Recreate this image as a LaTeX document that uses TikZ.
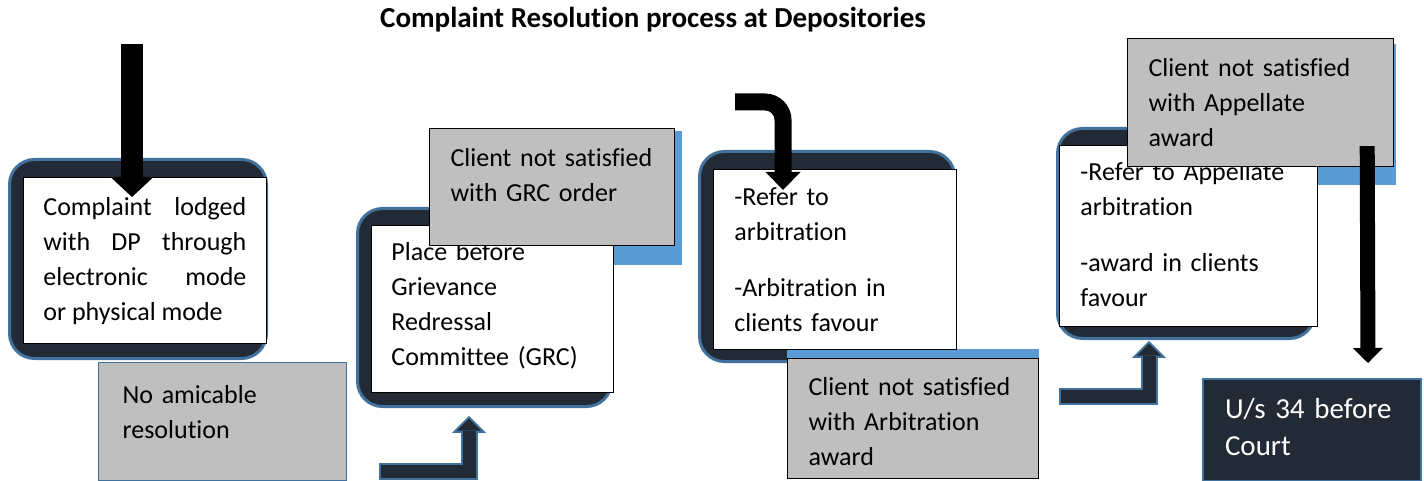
\documentclass[tikz,border=0pt]{standalone}
\usepackage{fontspec}
\setmainfont{Carlito}[Ligatures=NoCommon]
\usetikzlibrary{arrows.meta,calc}
\pgfdeclarelayer{back}
\pgfsetlayers{back,main}
\definecolor{framedark}{HTML}{222A35}
\definecolor{frameblue}{HTML}{41719C}
\definecolor{shadeblue}{HTML}{5B9BD5}
\definecolor{boxgray}{HTML}{BFBFBF}

\begin{document}
\begin{tikzpicture}[x=1pt,y=-1pt,
	roundframe/.style={draw=frameblue,line width=3pt,fill=framedark,rounded corners=25pt,anchor=north west,inner sep=0pt},
	textbox/.style={anchor=north west,inner ysep=0pt,align=left,font=\fontsize{26}{35}\selectfont},
	whitebox/.style={textbox,draw=black,line width=0.8pt,fill=white},
	graybox/.style={textbox,draw=black,line width=1.2pt,fill=boxgray},
	bluearrow/.style={draw=frameblue,line width=17pt,-{Triangle[width=34pt,length=17pt,line width=0pt]}},
	darkarrow/.style={draw=framedark,line width=13pt,shorten <=2pt,shorten >=2.8pt,-{Triangle[width=24pt,length=12pt,line width=0pt]}}]
	\useasboundingbox (0,0) rectangle (1424,481);
	\node[font=\bfseries\fontsize{29}{34}\selectfont] (title) at (653,20) {Complaint Resolution process at Depositories};

	\node[whitebox,inner xsep=20pt,text width=203pt,text height=38pt,text depth=128pt,align=justify] (lodge) at (23,177)
		{Complaint lodged\linebreak with DP through\linebreak electronic mode\linebreak or physical mode};
	\node[graybox,draw=frameblue,inner xsep=24pt,text width=200pt,text height=41pt,text depth=77pt] (amicable) at (98,362)
		{No amicable\\resolution};

	\node[whitebox,inner xsep=20pt,text width=202pt,text height=35pt,text depth=132pt] (grc) at (371,225)
		{Place before\\Grievance\\Redressal\\Committee (GRC)};
	\node[graybox,inner xsep=21pt,text width=203pt,text height=38pt,text depth=79pt] (notgrc) at (429,128)
		{Client not satisfied\\with GRC order};

	\node[whitebox,inner xsep=21pt,text width=201pt,text height=36pt,text depth=144pt] (arb) at (713,169)
		{-Refer to\\arbitration\\[21pt]-Arbitration in\\clients favour};
	\node[graybox,inner xsep=21pt,text width=209pt,text height=37pt,text depth=83pt] (notarb) at (787,358)
		{Client not satisfied\\with Arbitration\\award};

	\node[whitebox,inner xsep=21pt,text width=216pt,text height=35pt,text depth=146pt] (appellate) at (1059,145)
		{-Refer to Appellate\\arbitration\\[21pt]-award in clients\\favour};
	\node[graybox,inner xsep=21pt,text width=224pt,text height=38pt,text depth=90pt] (notappellate) at (1127,38)
		{Client not satisfied\\with Appellate\\award};

	\node[textbox,draw=frameblue,line width=2pt,fill=framedark,text=white,font=\fontsize{29}{37}\selectfont,
		inner xsep=22pt,text width=174pt,text height=39pt,text depth=63pt] (court) at (1202,378)
		{U/s 34 before\\Court};

	\begin{pgfonlayer}{back}
		\node[roundframe,minimum width=257pt,minimum height=199pt] (lodge frame) at (8,158) {};
		\node[roundframe,minimum width=254pt,minimum height=198pt] (grc frame) at (356,207) {};
		\node[roundframe,minimum width=255pt,minimum height=210pt] (arb frame) at (698,150) {};
		\node[roundframe,minimum width=257pt,minimum height=210pt] (appellate frame) at (1056,127) {};
		\fill[shadeblue] ($(notgrc.north west)+(7,3)$) rectangle ($(notgrc.south east)+(7,19)$);
		\fill[shadeblue] ($(notarb.north west)+(0,-9)$) rectangle ($(notarb.south east)+(0,-10)$);
		\fill[shadeblue] ($(notappellate.north west)+(7,6)$) rectangle ($(notappellate.south east)+(2,18)$);
	\end{pgfonlayer}

	\coordinate (lodge start) at (132,44);
	\draw[line width=22pt,-{Triangle[width=43pt,length=20pt,line width=0pt]}]
		(lodge start) -- ($(lodge start |- lodge.north)+(0,20)$);

	\coordinate (grc start) at (379,471.5);
	\draw[bluearrow] (grc start) -| ($(grc.south west)+(98,23)$);
	\draw[darkarrow] (grc start) -| ($(grc.south west)+(98,23)$);

	\coordinate (arb start) at (735,102);
	\draw[line width=17pt,rounded corners=18pt,-{Triangle[width=35pt,length=18pt,line width=0pt]}]
		(arb start) -| ($(arb.north west)+(70,21)$);

	\coordinate (appellate start) at (1059,396.5);
	\draw[bluearrow] (appellate start) -| ($(appellate.south west)+(90,14)$);
	\draw[darkarrow] (appellate start) -| ($(appellate.south west)+(90,14)$);

	\draw[line width=15pt,-{Triangle[width=30pt,length=15pt,line width=0pt]}]
		($(notappellate.south east)+(-27,-21)$) -- ($(court.north east)+(-54,-15)$);
\end{tikzpicture}
\end{document}
